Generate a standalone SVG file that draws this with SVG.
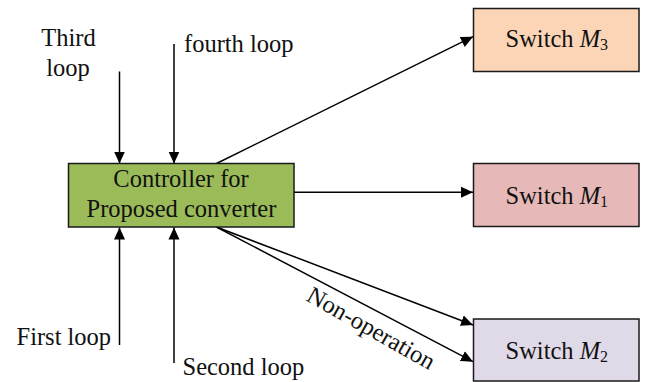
<svg xmlns="http://www.w3.org/2000/svg" width="645" height="382" viewBox="0 0 645 382">
  <style>
    .box { stroke: #1a1a1a; stroke-width: 1.5; }
    .t { font-family: "Liberation Serif", "Times New Roman", serif; font-size: 24.5px; fill: #111; }
    .c { text-anchor: middle; }
    .sub { font-size: 16px; }
    .wire { stroke: #000; stroke-width: 1.5; fill: none; marker-end: url(#arrow); }
  </style>
  <defs>
    <marker id="arrow" markerWidth="12" markerHeight="12" viewBox="0 0 12 12" refX="12" refY="6" orient="auto" markerUnits="userSpaceOnUse">
      <path d="M0,0.5 L12,6 L0,11.5 Z" fill="#000"/>
    </marker>
  </defs>

  <rect width="645" height="382" fill="#ffffff"/>

  <!-- connectors -->
  <g id="connectors">
    <line class="wire" x1="119.5" y1="71.5" x2="119.5" y2="163.5"/>
    <line class="wire" x1="174" y1="44" x2="174" y2="163.5"/>
    <line class="wire" x1="119.5" y1="345" x2="119.5" y2="227.5"/>
    <line class="wire" x1="174" y1="363" x2="174" y2="227.5"/>
    <line class="wire" x1="216.5" y1="163.5" x2="473" y2="36.7"/>
    <line class="wire" x1="294" y1="192.3" x2="473" y2="192.3"/>
    <line class="wire" x1="216.5" y1="227" x2="473" y2="325"/>
    <line class="wire" x1="216.5" y1="227" x2="473" y2="361.7"/>
  </g>

  <!-- input labels -->
  <g id="labels">
    <text class="t c" x="68.5" y="46">Third</text>
    <text class="t c" x="68" y="76">loop</text>
    <text class="t" x="184" y="52">fourth loop</text>
    <text class="t" x="16.5" y="345">First loop</text>
    <text class="t" x="182.5" y="375">Second loop</text>
    <text class="t" transform="translate(305,300) rotate(29.5)">Non-operation</text>
  </g>

  <g id="controller">
    <rect class="box" x="68.5" y="163.5" width="225.5" height="63.5" fill="#9BBB59"/>
    <text class="t c" x="181" y="187">Controller for</text>
    <text class="t c" x="181.5" y="217">Proposed converter</text>
  </g>

  <g id="switch-m3">
    <rect class="box" x="473.5" y="8.5" width="165.5" height="63" fill="#FBD5B6"/>
    <text class="t" x="505.5" y="47">Switch <tspan font-style="italic">M</tspan><tspan class="sub" dy="3">3</tspan></text>
  </g>

  <g id="switch-m1">
    <rect class="box" x="473.5" y="163.5" width="165.5" height="63" fill="#E6B9B8"/>
    <text class="t" x="505.5" y="203.5">Switch <tspan font-style="italic">M</tspan><tspan class="sub" dy="3">1</tspan></text>
  </g>

  <g id="switch-m2">
    <rect class="box" x="473.5" y="319" width="165.5" height="62" fill="#E0DAE8"/>
    <text class="t" x="505.5" y="358.5">Switch <tspan font-style="italic">M</tspan><tspan class="sub" dy="3">2</tspan></text>
  </g>
</svg>
